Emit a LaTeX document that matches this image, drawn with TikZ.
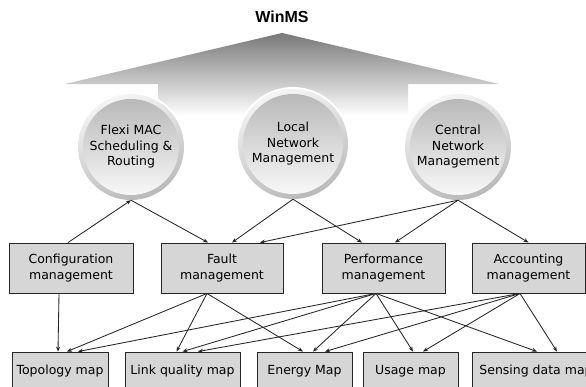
\documentclass[tikz,border=0pt]{standalone}
\usepackage{fontspec}
\setmainfont{DejaVu Sans}
\newfontfamily\titlefont{Liberation Sans}
\usetikzlibrary{arrows.meta,shadings}

\begin{document}
\begin{tikzpicture}[x=1pt,y=-1pt,
  every node/.style={font=\fontsize{12.5}{15.5}\selectfont},
  box/.style={draw=black!85, line width=0.9pt,
    fill={rgb,255:red,214;green,214;blue,214},
    minimum height=50pt, inner sep=0pt, align=center},
  mapbox/.style={box, minimum height=38pt},
  ball/.style={circle, inner sep=0pt, align=center, minimum size=#1,
    preaction={draw=white, line width=4pt},
    top color=gray!8, bottom color=gray!55, shading angle=20,
    path picture={\shade[top color=gray!58, bottom color=gray!3]
      (path picture bounding box.center) circle (#1/2-5pt);}},
  link/.style={draw=black!85, line width=0.85pt,
    -{Stealth[length=5pt,width=4pt]}}
]
\useasboundingbox (0,0) rectangle (586,386);
\clip (0,0) rectangle (586,386);
\fill[white] (0,0) rectangle (586,386);

% roof of the WinMS house
\shade[top color={rgb,255:red,120;green,120;blue,120}, bottom color=white]
  (65,84) -- (282,33) -- (499,84) -- (408,84) -- (408,116)
  -- (158,116) -- (158,84) -- cycle;
\node[font=\titlefont\bfseries\fontsize{16}{18}\selectfont] (title) at (282,17) {WinMS};

% the three pillars
\node[ball=106pt] (flexi) at (131,147) {Flexi MAC\\Scheduling \&\\Routing};
\node[ball=110pt] (local) at (293,144) {Local\\Network\\Management};
\node[ball=106pt] (central) at (458,147) {Central\\Network\\Management};

% management functions
\node[box, minimum width=124pt] (conf) at (71,268) {Configuration\\management};
\node[box, minimum width=122pt] (fault) at (222,268) {Fault\\management};
\node[box, minimum width=123pt] (perf) at (383.5,268) {Performance\\management};
\node[box, minimum width=113pt] (acc) at (528.5,268) {Accounting\\management};

% maps
\node[mapbox, minimum width=96pt] (topo) at (60,371) {Topology map};
\node[mapbox, minimum width=115pt] (lq) at (182.5,371) {Link quality map};
\node[mapbox, minimum width=95pt] (energy) at (304.5,371) {Energy Map};
\node[mapbox, minimum width=95pt] (usage) at (410.5,371) {Usage map};
\node[mapbox, minimum width=128pt] (sense) at (536,371) {Sensing data map};

% functions to pillars
\draw[link] ([xshift=-3pt]conf.north) -- (flexi.south);
\draw[link] (flexi.south) -- ([xshift=-14pt]fault.north);
\draw[link] (local.south) -- ([xshift=10pt]fault.north);
\draw[link] (central.south) -- ([xshift=38pt]fault.north);
\draw[link] (local.south) -- ([xshift=-21.5pt]perf.north);
\draw[link] (central.south) -- ([xshift=11.5pt]perf.north);
\draw[link] (central.south) -- (acc.north);

% functions to maps
\draw[link] ([xshift=-12pt]conf.south) -- ([xshift=-2pt]topo.north);
\draw[link] ([xshift=-15pt]fault.south) -- ([xshift=7pt]topo.north);
\draw[link] ([xshift=-15pt]fault.south) -- ([xshift=-6pt]lq.north);
\draw[link] ([xshift=-15pt]fault.south) -- ([xshift=-1.5pt]energy.north);
\draw[link] ([xshift=-7.5pt]perf.south) -- ([xshift=18pt]topo.north);
\draw[link] ([xshift=-7.5pt]perf.south) -- (lq.north);
\draw[link] ([xshift=-7.5pt]perf.south) -- ([xshift=8.5pt]energy.north);
\draw[link] ([xshift=-7.5pt]perf.south) -- ([xshift=2.5pt]usage.north);
\draw[link] ([xshift=-7.5pt]perf.south) -- ([xshift=1pt]sense.north);
\draw[link] ([xshift=-8.5pt]acc.south) -- ([xshift=15.5pt]lq.north);
\draw[link] ([xshift=-8.5pt]acc.south) -- ([xshift=20.5pt]energy.north);
\draw[link] ([xshift=-8.5pt]acc.south) -- ([xshift=12.5pt]usage.north);
\draw[link] ([xshift=-8.5pt]acc.south) -- ([xshift=21pt]sense.north);
\end{tikzpicture}
\end{document}
